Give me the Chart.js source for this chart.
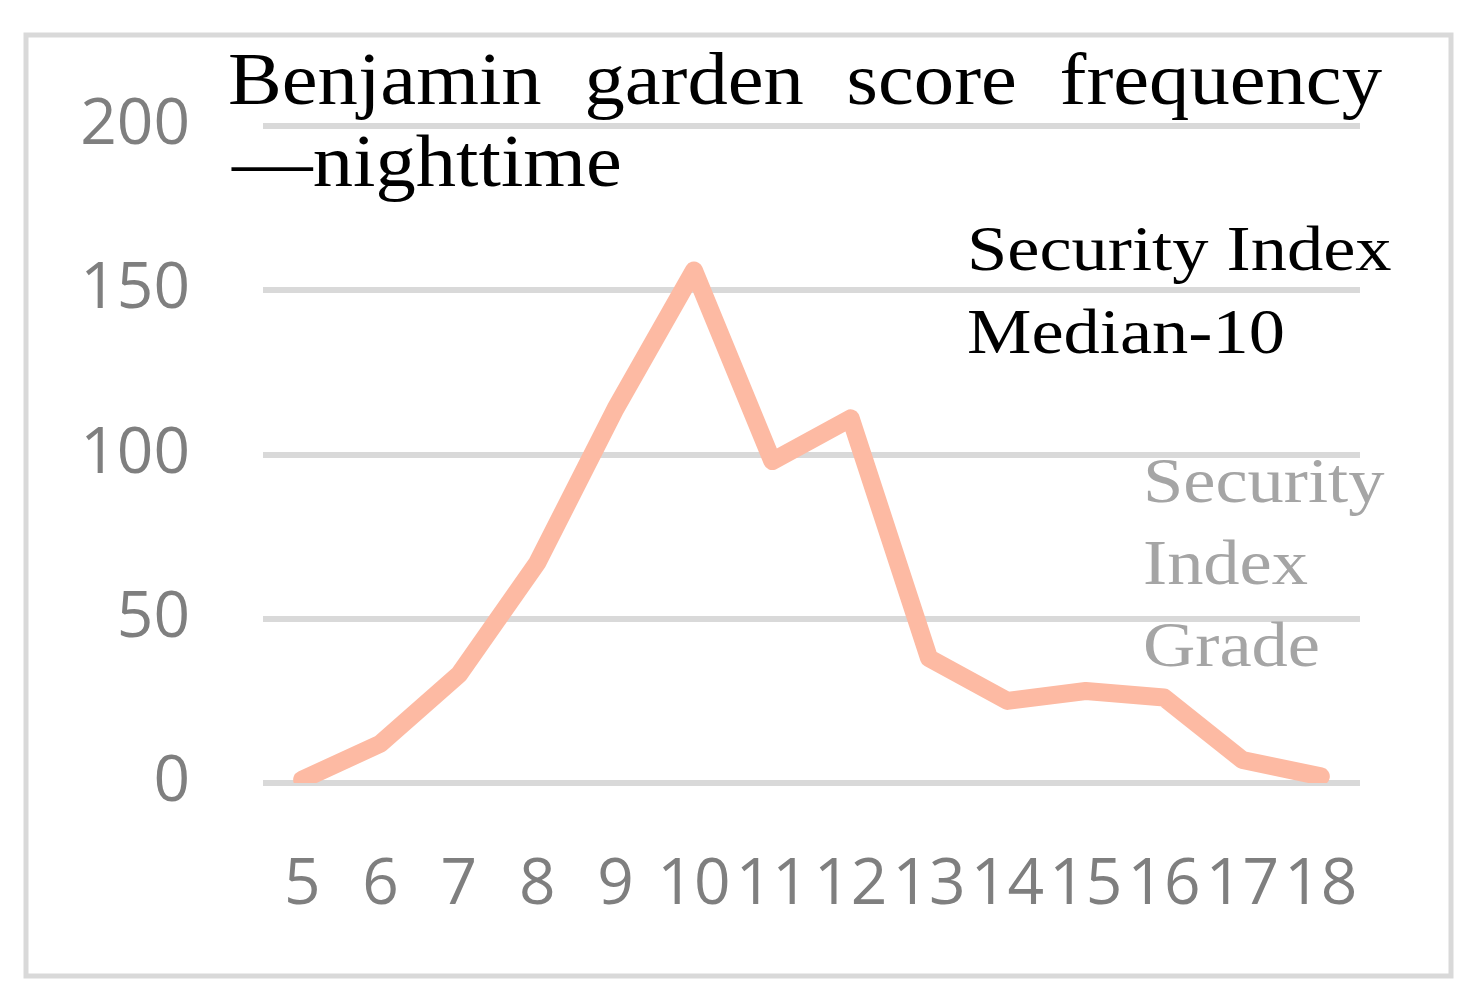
<!DOCTYPE html>
<html>
<head>
<meta charset="utf-8">
<script src="https://cdn.jsdelivr.net/npm/chart.js@4"></script>
<style>
  html, body { margin: 0; padding: 0; background: #ffffff; }
  #wrap { width: 1480px; height: 1008px; position: relative; }
</style>
</head>
<body>
<div id="wrap"><canvas id="chart" width="1480" height="1008"></canvas></div>
<script>
// data
const grades = ['5', '6', '7', '8', '9', '10', '11', '12', '13', '14', '15', '16', '17', '18'];
const frequency = [1, 12, 33, 67, 114, 156, 98, 111, 38, 25, 28, 26, 7, 2];
const yTicks = [0, 50, 100, 150, 200];

const titleLines = [['Benjamin', 'garden', 'score', 'frequency'], ['\u2014nighttime']];
const medianNote = ['Security Index', 'Median-10'];
const gradeNote = ['Security', 'Index', 'Grade'];

const SERIF = '"Liberation Serif", "DejaVu Serif", serif';
const SANS = '"Open Sans", "Noto Sans", sans-serif';

// the original serif face is wider than Times, so stretch it a little
function wideText(ctx, text, x, y, stretch) {
    ctx.save();
    ctx.translate(x, y);
    ctx.scale(stretch, 1);
    ctx.fillText(text, 0, 0);
    ctx.restore();
}

// frame, title and the two text notes
const decorations = {
    id: 'decorations',
    beforeDraw(chart) {
        const ctx = chart.ctx;
        ctx.save();
        ctx.fillStyle = '#ffffff';
        ctx.fillRect(0, 0, chart.width, chart.height);
        ctx.strokeStyle = '#d9d9d9';
        ctx.lineWidth = 5;
        ctx.strokeRect(26, 35, 1425, 941);
        ctx.restore();
    },
    afterDraw(chart) {
        const ctx = chart.ctx;
        ctx.save();
        ctx.textBaseline = 'alphabetic';
        ctx.textAlign = 'left';

        // title, first line justified between 228 and 1382
        const ts = 1.09;
        ctx.font = '74px ' + SERIF;
        ctx.fillStyle = '#000000';
        const words = titleLines[0];
        const left = 228, right = 1382;
        const widths = words.map(w => ctx.measureText(w).width * ts);
        const gap = (right - left - widths.reduce((a, b) => a + b, 0)) / (words.length - 1);
        let x = left;
        words.forEach((w, i) => {
            wideText(ctx, w, x, 104, ts);
            x += widths[i] + gap;
        });
        wideText(ctx, titleLines[1][0], 232, 186, ts);

        ctx.font = '63px ' + SERIF;
        ctx.fillStyle = '#000000';
        medianNote.forEach((t, i) => wideText(ctx, t, 967, 270 + i * 83, 1.15));

        ctx.fillStyle = '#a5a5a5';
        gradeNote.forEach((t, i) => wideText(ctx, t, 1143, 502 + i * 82, 1.15));
        ctx.restore();
    }
};

new Chart(document.getElementById('chart'), {
    type: 'line',
    data: {
        labels: grades,
        datasets: [{
            label: 'Security Index Grade',
            data: frequency,
            borderColor: '#fdbaa3',
            borderWidth: 18,
            borderCapStyle: 'round',
            borderJoinStyle: 'round',
            pointRadius: 0,
            tension: 0,
            fill: false
        }]
    },
    options: {
        responsive: false,
        animation: false,
        layout: { padding: { left: 0, right: 120, top: 126, bottom: 0 } },
        plugins: {
            legend: { display: false },
            title: { display: false },
            tooltip: { enabled: false }
        },
        scales: {
            x: {
                offset: true,
                grid: { display: false },
                border: { display: false },
                ticks: {
                    color: '#7f7f7f',
                    font: { family: SANS, size: 64 },
                    autoSkip: false,
                    maxRotation: 0,
                    padding: 56
                },
                afterFit(scale) { scale.height = 225; }
            },
            y: {
                min: 0,
                max: 200,
                afterBuildTicks(scale) { scale.ticks = yTicks.map(v => ({ value: v })); },
                grid: { color: '#d9d9d9', lineWidth: 6, drawTicks: false },
                border: { display: false },
                ticks: {
                    color: '#7f7f7f',
                    font: { family: SANS, size: 64 },
                    padding: 73
                },
                afterFit(scale) { scale.width = 263; }
            }
        }
    },
    plugins: [decorations]
});
</script>
</body>
</html>
